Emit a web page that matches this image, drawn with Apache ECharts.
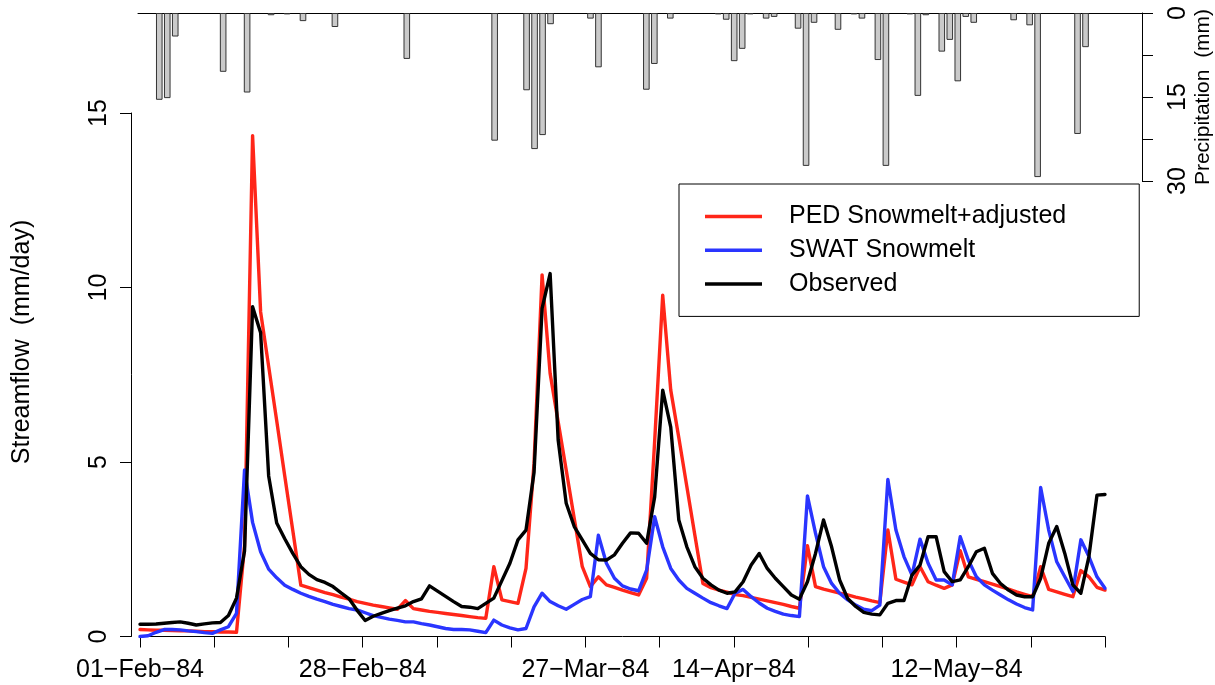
<!DOCTYPE html>
<html><head><meta charset="utf-8">
<script src="https://cdn.jsdelivr.net/npm/echarts@6/dist/echarts.min.js"></script>
<style>html,body{margin:0;padding:0;background:#fff}#c{width:1215px;height:685px}</style>
</head><body><div id="c"></div>
<script>
// Daily series, 01-Feb-1984 .. 31-May-1984 (121 days)
const tickLabels = ['01\u2212Feb\u221284','28\u2212Feb\u221284','27\u2212Mar\u221284','14\u2212Apr\u221284','12\u2212May\u221284'];
const labelledTicks = [0, 3, 6, 8, 11]; // which of the 14 axis ticks carry a date label
const seriesNames = ['PED Snowmelt+adjusted', 'SWAT Snowmelt', 'Observed'];
const yTitle = 'Streamflow  (mm/day)';
const precipTitle = 'Precipitation  (mm)';

const pedSnowmelt = [
0.20,0.19,0.18,0.18,0.17,0.16,0.16,0.15,0.14,0.14,
0.13,0.13,0.12,2.6,14.35,9.3,7.74,6.18,4.6,3.04,
1.47,1.4,1.33,1.26,1.2,1.13,1.07,1.0,0.95,0.9,
0.86,0.82,0.78,1.03,0.8,0.76,0.72,0.69,0.66,0.63,
0.6,0.57,0.54,0.52,2.0,1.05,1.0,0.95,1.95,4.96,
10.36,7.54,6.15,4.77,3.38,2.0,1.43,1.71,1.48,1.41,
1.33,1.26,1.19,1.67,5.6,9.78,7.06,5.7,4.3,2.9,
1.52,1.4,1.33,1.27,1.2,1.17,1.12,1.07,1.02,0.97,
0.92,0.86,0.81,2.6,1.43,1.36,1.3,1.24,1.19,1.13,
1.08,1.02,0.97,3.05,1.64,1.56,1.48,2.0,1.57,1.47,
1.38,1.48,2.46,1.71,1.64,1.57,1.5,1.43,1.36,1.28,
1.21,1.14,2.0,1.35,1.28,1.21,1.14,1.89,1.71,1.41,
1.33];

const swatSnowmelt = [
0.0,0.02,0.12,0.2,0.2,0.19,0.16,0.14,0.11,0.09,
0.19,0.28,0.66,4.77,3.27,2.43,1.93,1.68,1.47,1.35,
1.24,1.15,1.07,1.0,0.92,0.86,0.8,0.76,0.68,0.6,
0.55,0.5,0.46,0.42,0.42,0.37,0.33,0.28,0.23,0.2,
0.2,0.19,0.15,0.11,0.47,0.33,0.25,0.19,0.23,0.85,
1.24,1.0,0.88,0.78,0.92,1.06,1.14,2.9,2.1,1.67,
1.45,1.36,1.31,1.9,3.43,2.57,1.95,1.62,1.38,1.24,
1.1,0.97,0.88,0.8,1.24,1.35,1.14,0.96,0.81,0.72,
0.64,0.6,0.57,4.03,2.96,2.0,1.52,1.24,1.05,0.9,
0.78,0.74,0.9,4.5,3.05,2.29,1.76,2.79,2.1,1.62,
1.62,1.48,2.86,2.19,1.71,1.48,1.33,1.19,1.05,0.93,
0.83,0.76,4.27,3.05,2.14,1.71,1.29,2.77,2.29,1.71,
1.38];

const observed = [
0.35,0.35,0.36,0.38,0.4,0.42,0.38,0.33,0.36,0.39,
0.4,0.6,1.1,2.45,9.45,8.7,4.6,3.25,2.8,2.38,
2.0,1.78,1.63,1.55,1.43,1.25,1.08,0.75,0.46,0.58,
0.66,0.74,0.81,0.88,1.0,1.08,1.45,1.3,1.15,1.0,
0.86,0.84,0.8,0.95,1.1,1.6,2.1,2.77,3.05,4.7,
9.4,10.4,5.63,3.82,3.15,2.77,2.38,2.2,2.19,2.34,
2.67,2.97,2.96,2.67,4.0,7.06,6.0,3.34,2.57,2.0,
1.67,1.48,1.33,1.24,1.28,1.57,2.05,2.38,1.95,1.67,
1.43,1.19,1.07,1.57,2.38,3.34,2.57,1.62,1.09,0.86,
0.69,0.64,0.62,0.95,1.03,1.03,1.76,2.05,2.86,2.86,
1.86,1.57,1.62,2.0,2.43,2.53,1.81,1.52,1.33,1.19,
1.14,1.14,1.67,2.67,3.15,2.38,1.48,1.24,2.29,4.05,
4.07];

const precipitation = [
0,0,15.5,15.2,4.2,0,0,0,0,0,
10.5,0,0,14.2,0,0,0.4,0,0.25,0,
1.45,0,0,0,2.5,0,0,0,0,0,
0,0,0,8.2,0,0,0,0,0,0,
0,0,0,0,22.8,0,0,0,13.8,24.3,
21.8,2.0,0,0,0,0,1.0,9.7,0,0,
0,0,0,13.7,9.1,0,1.0,0,0,0,
0,0,0.25,1.2,8.6,6.4,0.25,0,1.0,0.7,
0,0,2.8,27.3,1.75,0,0,3.0,0,0.25,
1.0,0,8.4,27.3,0,0,0.25,14.8,0.4,0,
6.9,4.8,12.2,0.7,1.75,0,0,0,0,1.3,
0,2.2,29.3,0,0,0,0,21.6,6.1,0,
0];

const FONT = 'Liberation Sans';
const N = observed.length;
const xTicks = Array.from({length: 14}, (_, k) => k * (N - 1) / 13);
const xLabelVals = labelledTicks.map(k => xTicks[k]);

const chart = echarts.init(document.getElementById('c'), null, {renderer: 'canvas', width: 1215, height: 685});
const pairs = arr => arr.map((v, i) => [i, v]);
const black = {color: '#000', width: 1};

chart.setOption({
  animation: false,
  backgroundColor: '#fff',
  textStyle: {fontFamily: FONT},
  grid: [
    {left: 140, right: 110, top: 113, bottom: 48.5, containLabel: false, outerBoundsMode: 'none'},
    {left: 138, right: 73, top: 13, height: 168, containLabel: false, outerBoundsMode: 'none'}
  ],
  xAxis: [
    {
      gridIndex: 0, type: 'value', min: 0, max: N - 1,
      axisLine: {show: true, onZero: false, lineStyle: black},
      axisTick: {show: true, customValues: xTicks, length: 11, lineStyle: black},
      axisLabel: {
        show: true, customValues: xLabelVals, margin: 21,
        fontSize: 25, color: '#000', fontFamily: FONT,
        formatter: v => {
          let best = 0;
          xLabelVals.forEach((t, k) => { if (Math.abs(t - v) < Math.abs(xLabelVals[best] - v)) best = k; });
          return tickLabels[best];
        }
      },
      splitLine: {show: false}
    },
    {
      gridIndex: 1, type: 'value', position: 'top',
      min: (138 - 143.3) / 7.985, max: (1142 - 143.3) / 7.985,
      axisLine: {show: true, onZero: false, lineStyle: black},
      axisTick: {show: false}, axisLabel: {show: false}, splitLine: {show: false}
    }
  ],
  yAxis: [
    {
      gridIndex: 0, type: 'value', min: 0, max: 15, interval: 5, offset: 9,
      axisLine: {show: true, onZero: false, lineStyle: black},
      axisTick: {show: true, length: 11, lineStyle: black},
      axisLabel: {rotate: 90, margin: 19, fontSize: 25, color: '#000', fontFamily: FONT},
      splitLine: {show: false}
    },
    {
      gridIndex: 1, type: 'value', position: 'right', inverse: true, min: 0, max: 30,
      axisLine: {show: true, onZero: false, lineStyle: black},
      axisTick: {show: true, customValues: [0, 7.5, 15, 22.5, 30], length: 11, lineStyle: black},
      axisLabel: {customValues: [0, 15, 30], rotate: 90, margin: 24, fontSize: 25, color: '#000', fontFamily: FONT},
      splitLine: {show: false}
    }
  ],
  graphic: [
    {
      type: 'text', x: 22, y: 342, rotation: Math.PI / 2, silent: true,
      style: {text: yTitle, fontSize: 25, fontFamily: FONT, fill: '#000', align: 'center', verticalAlign: 'middle'}
    },
    {
      type: 'text', x: 1203, y: 97, rotation: Math.PI / 2, silent: true,
      style: {text: precipTitle, fontSize: 21, fontFamily: FONT, fill: '#000', align: 'center', verticalAlign: 'middle'}
    }
  ],
  legend: {
    orient: 'vertical', left: 679, top: 184,
    backgroundColor: '#fff', borderColor: '#000', borderWidth: 1, borderRadius: 0,
    padding: [20, 73, 20, 26],
    itemWidth: 57, itemHeight: 3.5, itemGap: 8.7,
    textStyle: {fontSize: 25, color: '#000', fontFamily: FONT, lineHeight: 24, padding: [0, 0, 0, 22]},
    data: seriesNames.map(n => ({name: n, icon: 'rect'}))
  },
  series: [
    {
      name: 'Precipitation', type: 'bar', xAxisIndex: 1, yAxisIndex: 1,
      barWidth: 6.6,
      itemStyle: {color: '#cacaca', borderColor: '#333', borderWidth: 1},
      data: pairs(precipitation).filter(d => d[1] > 0)
    },
    {
      name: seriesNames[0], type: 'line', xAxisIndex: 0, yAxisIndex: 0, symbol: 'none', z: 3,
      color: '#ff2619', lineStyle: {width: 3.4, color: '#ff2619', join: 'round', cap: 'round'},
      data: pairs(pedSnowmelt)
    },
    {
      name: seriesNames[1], type: 'line', xAxisIndex: 0, yAxisIndex: 0, symbol: 'none', z: 4,
      color: '#2a35ff', lineStyle: {width: 3.4, color: '#2a35ff', join: 'round', cap: 'round'},
      data: pairs(swatSnowmelt)
    },
    {
      name: seriesNames[2], type: 'line', xAxisIndex: 0, yAxisIndex: 0, symbol: 'none', z: 5,
      color: '#000', lineStyle: {width: 3.4, color: '#000', join: 'round', cap: 'round'},
      data: pairs(observed)
    }
  ]
});
</script>
</body></html>
